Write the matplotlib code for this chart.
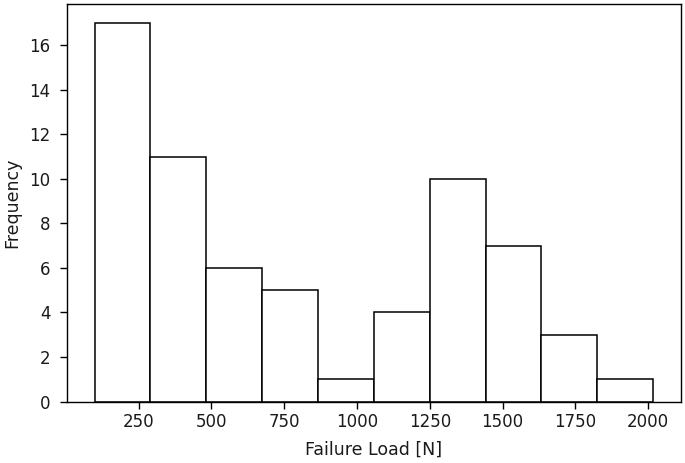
import matplotlib
matplotlib.use("Agg")
import matplotlib.pyplot as plt
import numpy as np

# Histogram data
bin_edges = np.linspace(99, 2017, 11)
counts = [17, 11, 6, 5, 1, 4, 10, 7, 3, 1]
x_label = "Failure Load [N]"
y_label = "Frequency"
x_ticks = [250, 500, 750, 1000, 1250, 1500, 1750, 2000]
y_ticks = [0, 2, 4, 6, 8, 10, 12, 14, 16]

plt.rcParams["font.size"] = 12
fig = plt.figure(figsize=(6.85, 4.63), dpi=100)
ax = fig.add_axes([0.0974, 0.1328, 0.9942 - 0.0974, 0.9914 - 0.1328])

centers = (bin_edges[:-1] + bin_edges[1:]) / 2
ax.hist(centers, bins=bin_edges, weights=counts, facecolor="white",
        edgecolor="black", linewidth=1.1)
ax.set_xlabel(x_label, fontsize=12.5, labelpad=7.5, color="#1a1a1a")
ax.set_ylabel(y_label, fontsize=12.5, labelpad=6, color="#1a1a1a")
ax.set_xticks(x_ticks)
ax.set_yticks(y_ticks)
ax.tick_params(axis="x", length=5, width=1.0, pad=3, labelsize=12, labelcolor="#1a1a1a")
ax.tick_params(axis="y", length=5, width=1.0, pad=6.5, labelsize=12, labelcolor="#1a1a1a")
for s in ax.spines.values():
    s.set_linewidth(1.0)

fig.savefig("out.png", dpi=100)
